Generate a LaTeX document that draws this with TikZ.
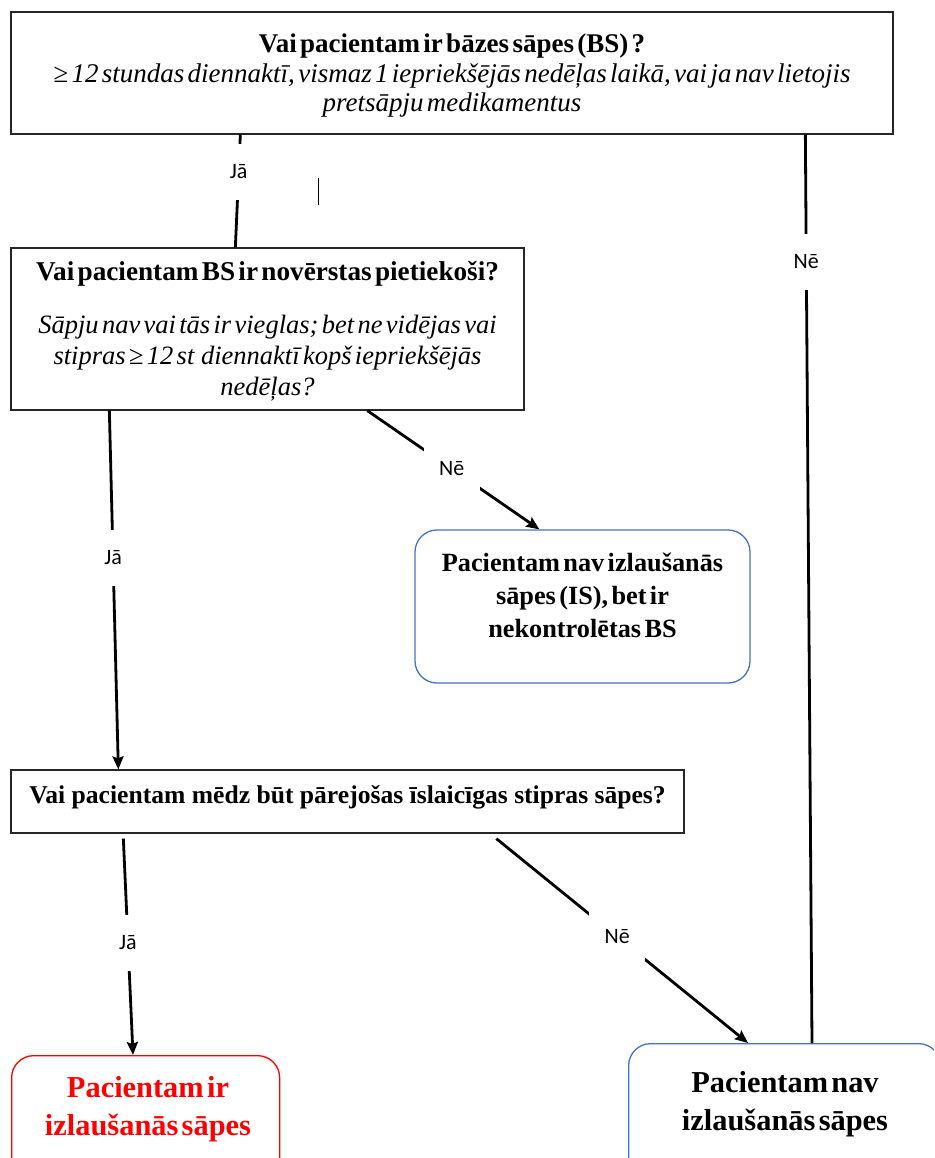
\documentclass[tikz,border=0pt]{standalone}
\usepackage{fontspec}
\setmainfont{Liberation Serif}
\newfontfamily\lblfont{Carlito}
\usetikzlibrary{arrows.meta}
\definecolor{boxblue}{RGB}{68,114,196}
\definecolor{boxred}{RGB}{255,0,0}
\begin{document}
\begin{tikzpicture}[x=1pt,y=-1pt,
 sq/.style={draw=black!85, line width=1.3pt, rectangle, inner sep=0pt},
 rbox/.style={draw=boxblue, line width=1.3pt, rounded corners=22pt, rectangle, inner sep=0pt},
 txt/.style={inner sep=0pt, align=center},
 con/.style={line width=2.8pt},
 arr/.style={con, -{Stealth[length=13pt,width=11pt,inset=2pt]}},
 lbl/.style={fill=white, inner sep=0pt, minimum width=56pt, minimum height=56pt, font=\lblfont\fontsize{22}{26}\selectfont},
]
\path[clip] (0,0) rectangle (934,1158);

% boxes
\node[sq, minimum width=882pt, minimum height=122pt] (b1) at (452,73) {};
\node[txt, text width=875pt] (t1) at (452,76) {\fontsize{27}{29.5}\selectfont\bfseries Vai pacientam ir bāzes sāpes (BS) ?\\
\mdseries\itshape ≥ 12 stundas diennaktī, vismaz 1 iepriekšējās nedēļas laikā, vai ja nav lietojis\\ pretsāpju medikamentus\par};

\node[sq, minimum width=513pt, minimum height=162pt] (b2) at (267.5,329) {};
\node[txt, text width=508pt] (t2) at (267.5,331) {\fontsize{27.2}{31}\selectfont\bfseries Vai pacientam BS ir novērstas pietiekoši?\\[22pt]
\fontsize{26.5}{31}\selectfont\mdseries\itshape Sāpju nav vai tās ir vieglas; bet ne vidējas vai\\ stipras ≥ 12 st~ diennaktī kopš iepriekšējās\\ nedēļas?\par};

\node[rbox, minimum width=335pt, minimum height=153pt] (b3) at (582.5,606.5) {};
\node[txt, text width=325pt] (t3) at (582.5,595) {\fontsize{26.3}{33}\selectfont\bfseries Pacientam nav izlaušanās\\ sāpes (IS), bet ir\\ nekontrolētas BS\par};

\node[sq, minimum width=673pt, minimum height=63pt] (b4) at (347.5,801.5) {};
\node[txt] (t4) at (347.5,797) {\fontsize{25.6}{30}\selectfont\bfseries Vai pacientam mēdz būt pārejošas īslaicīgas stipras sāpes?};

\node[rbox, draw=boxred, minimum width=268pt, minimum height=150pt, anchor=north west] (b5) at (11,1055) {};
\node[txt, text width=262pt, text=boxred] (t5) at (148,1109) {\fontsize{30.4}{38}\selectfont\bfseries Pacientam ir\\ izlaušanās sāpes\par};

\node[rbox, minimum width=312pt, minimum height=150pt, anchor=north west] (b6) at (628,1043) {};
\node[txt, text width=300pt] (t6) at (785,1104) {\fontsize{30.4}{38}\selectfont\bfseries Pacientam nav\\ izlaušanās sāpes\par};

% connectors
\draw[con] ([xshift=230pt]b1.south west) -- node[lbl, pos=0.33] (l1) {Jā} ([xshift=225pt]b2.north west);
\draw[con] ([xshift=795pt]b1.south west) -- node[lbl, pos=0.14] (l2) {Nē} ([xshift=184pt]b6.north west);
\draw[arr] ([xshift=357pt]b2.south west) -- node[lbl, pos=0.49] (l3) {Nē} ([xshift=125pt]b3.north west);
\draw[arr] ([xshift=99pt]b2.south west) -- node[lbl, pos=0.41] (l4) {Jā} ([xshift=108pt]b4.north west);
\draw[arr] ([xshift=113pt,yshift=-5pt]b4.south west) -- node[lbl, pos=0.48] (l5) {Jā} ([xshift=122pt]b5.north west);
\draw[arr] ([xshift=486pt,yshift=-5pt]b4.south west) -- node[lbl, pos=0.48] (l6) {Nē} ([xshift=120pt]b6.north west);

% stray mark
\draw[line width=1pt] (318,178) -- (318,205);
\end{tikzpicture}
\end{document}
